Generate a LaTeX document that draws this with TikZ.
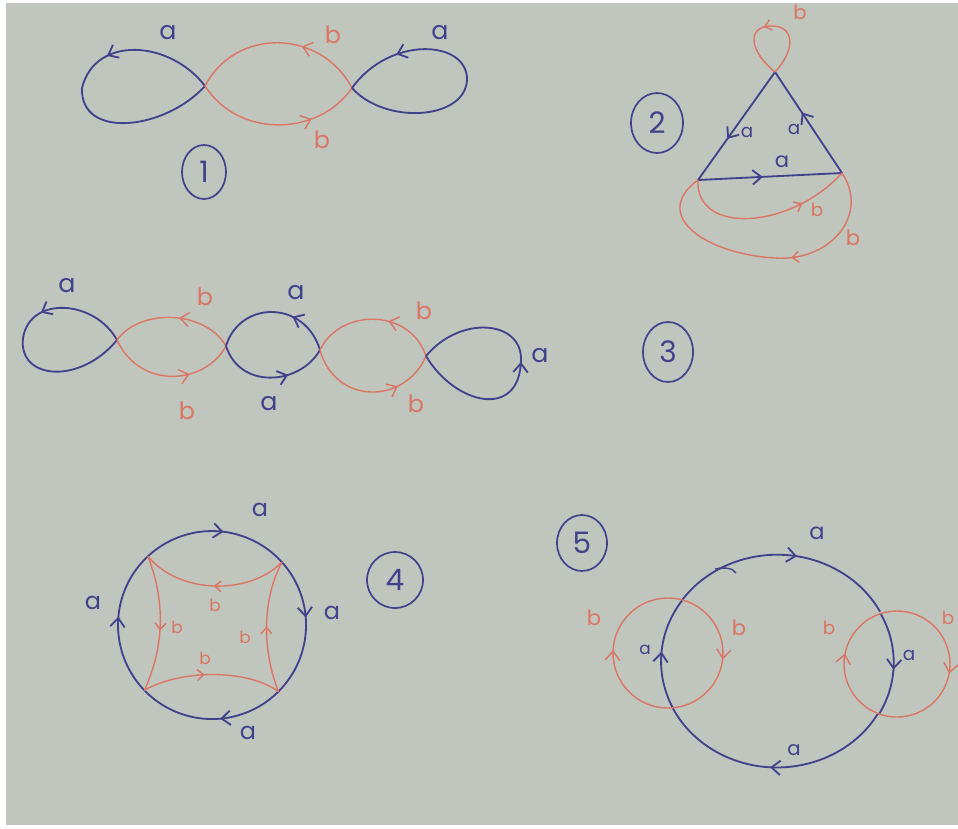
\documentclass[tikz,border=0pt]{standalone}
\usepackage{fontspec}
\setmainfont{Poppins}
\usetikzlibrary{arrows.meta,decorations.markings,shapes.geometric}
\definecolor{paper}{HTML}{C0C5BE}
\definecolor{bluepen}{HTML}{41428B}
\definecolor{redpen}{HTML}{DB7664}

\begin{document}
\begin{tikzpicture}[x=0.25mm,y=-0.25mm,
  bedge/.style={bluepen,line width=1.3pt},
  redge/.style={redpen,line width=1pt},
  midtip/.style={postaction={decorate},decoration={markings,
     mark=at position #1 with {\arrow{Straight Barb[length=2.2mm,width=3.6mm]}}}},
  smalltip/.style={postaction={decorate},decoration={markings,
     mark=at position #1 with {\arrow{Straight Barb[length=1.6mm,width=2.7mm]}}}},
  alab/.style={text=bluepen,inner sep=0pt,font=\fontsize{#1}{#1}\selectfont},
  alab/.default=18,
  blab/.style={text=redpen,inner sep=0pt,font=\fontsize{#1}{#1}\selectfont},
  blab/.default=17,
  ring/.style={draw=bluepen,ellipse,line width=1.2pt,inner sep=0pt,
               text=bluepen,font=\fontsize{21}{21}\selectfont}
]
% pixel grid of the photo, y grows downward
\path[use as bounding box] (0,0) rectangle (958,828);
\fill[white] (0,0) rectangle (958,828);
\fill[paper] (6,3) rectangle (958,825);

% 1
\coordinate (g1l) at (205,86);
\coordinate (g1r) at (352,88);
\draw[bedge,midtip=.36] (g1l) .. controls (170,40) and (95,35) .. (82,88)
  .. controls (80,140) and (165,130) .. (g1l);
\draw[redge,midtip=.37] (g1r) .. controls (320,28) and (235,28) .. (g1l);
\draw[redge,midtip=.7] (g1l) .. controls (240,140) and (320,135) .. (g1r);
\draw[bedge,midtip=.8] (g1r) .. controls (385,125) and (465,120) .. (467,80)
  .. controls (468,40) and (390,35) .. (g1r);
\node[alab] (a1left) at (168,33) {a};
\node[alab] (a1right) at (440,33) {a};
\node[blab] (b1top) at (333,35) {b};
\node[blab] (b1bot) at (322,140) {b};
\node[ring,minimum width=11mm,minimum height=13.5mm] (n1) at (204,172) {1};

% 2
\coordinate (g2t) at (775,72);
\coordinate (g2l) at (698,180);
\coordinate (g2r) at (842,173);
\draw[bedge,midtip=.62] (g2t) -- (g2l);
\draw[bedge,midtip=.6] (g2r) -- (g2t);
\draw[bedge,midtip=.45] (g2l) -- (g2r);
\draw[redge,smalltip=.55] (g2t) .. controls (797,48) and (794,25) .. (770,26)
  .. controls (746,27) and (750,52) .. (g2t);
\draw[redge,smalltip=.72] (g2l) .. controls (695,235) and (790,230) .. (g2r);
\draw[redge,smalltip=.42] (g2r) .. controls (870,215) and (830,262) .. (775,258)
  .. controls (705,254) and (650,215) .. (g2l);
\node[alab=13] (a2left) at (747,132) {a};
\node[alab=13] (a2right) at (794,129) {a};
\node[alab=15] (a2bot) at (782,162) {a};
\node[blab=14] (b2top) at (800,12) {b};
\node[blab=13] (b2in) at (817,210) {b};
\node[blab=15] (b2out) at (853,238) {b};
\node[ring,minimum width=13mm,minimum height=15mm] (n2) at (657,123) {2};

% 3
\coordinate (g3a) at (117,340);
\coordinate (g3b) at (226,346);
\coordinate (g3c) at (320,350);
\coordinate (g3d) at (426,356);
\draw[bedge,midtip=.36] (g3a) .. controls (95,300) and (30,295) .. (23,338)
  .. controls (18,380) and (80,385) .. (g3a);
\draw[redge,midtip=.45] (g3b) .. controls (205,310) and (140,308) .. (g3a);
\draw[redge,midtip=.65] (g3a) .. controls (140,390) and (205,385) .. (g3b);
\draw[bedge,midtip=.35] (g3c) .. controls (305,300) and (240,300) .. (g3b);
\draw[bedge,midtip=.65] (g3b) .. controls (240,390) and (300,385) .. (g3c);
\draw[redge,midtip=.4] (g3d) .. controls (410,308) and (340,308) .. (g3c);
\draw[redge,midtip=.7] (g3c) .. controls (335,405) and (405,405) .. (g3d);
\draw[bedge,midtip=.52] (g3d) .. controls (455,405) and (520,420) .. (521,360)
  .. controls (522,320) and (460,315) .. (g3d);
\node[alab] (a3loopl) at (67,286) {a};
\node[alab] (a3top) at (296,293) {a};
\node[alab] (a3bot) at (269,404) {a};
\node[alab] (a3loopr) at (540,356) {a};
\node[blab] (b3topl) at (205,297) {b};
\node[blab] (b3botl) at (187,411) {b};
\node[blab] (b3topr) at (424,311) {b};
\node[blab] (b3botr) at (416,404) {b};
\node[ring,minimum width=12.5mm,minimum height=15mm] (n3) at (668,352) {3};

% 4
\coordinate (g4tl) at (147.9,556.3);
\coordinate (g4tr) at (281.9,562.1);
\coordinate (g4br) at (278.5,691.5);
\coordinate (g4bl) at (144.4,690.3);
\draw[bedge,midtip=.55] (g4tl) arc[start angle=227,end angle=318,radius=94];
\draw[bedge,midtip=.43] (g4tr) arc[start angle=-42,end angle=45,radius=94];
\draw[bedge,midtip=.44] (g4br) arc[start angle=45,end angle=136,radius=94];
\draw[bedge,midtip=.54] (g4bl) arc[start angle=136,end angle=227,radius=94];
\draw[redge,smalltip=.5] (g4tr) .. controls (250,595) and (180,595) .. (g4tl);
\draw[redge,smalltip=.55] (g4tl) .. controls (165,600) and (165,645) .. (g4bl);
\draw[redge,smalltip=.45] (g4bl) .. controls (180,670) and (245,668) .. (g4br);
\draw[redge,smalltip=.5] (g4br) .. controls (262,650) and (262,600) .. (g4tr);
\node[alab=17] (a4top) at (260,510) {a};
\node[alab=17] (a4right) at (332,613) {a};
\node[alab=17] (a4bot) at (248,733) {a};
\node[alab=17] (a4left) at (93,603) {a};
\node[blab=12] (b4top) at (215,605) {b};
\node[blab=12] (b4left) at (177,627) {b};
\node[blab=12] (b4bot) at (205,658) {b};
\node[blab=12] (b4right) at (245,637) {b};
\node[ring,minimum width=14mm,minimum height=14mm] (n4) at (395,580) {4};

% 5
\coordinate (g5p1) at (682.2,599.9);
\coordinate (g5p2) at (672.8,707.8);
\coordinate (g5p3) at (880.6,613.6);
\coordinate (g5p4) at (878,713.5);
\draw[bedge,midtip=.555] (g5p1) arc[start angle=-145,end angle=-27.5,x radius=116,y radius=106];
\draw[bedge,midtip=.55] (g5p3) arc[start angle=-27.5,end angle=29.4,x radius=116,y radius=106];
\draw[bedge,midtip=.515] (g5p4) arc[start angle=29.4,end angle=154,x radius=116,y radius=106];
\draw[bedge,midtip=.51] (g5p2) arc[start angle=154,end angle=215,x radius=116,y radius=106];
\draw[bedge,line width=1pt] (715,569) .. controls (725,567) and (733,568) .. (736,573);
\draw[redge,midtip=.49] (g5p2) arc[start angle=85,end angle=285,radius=55];
\draw[redge,midtip=.51] (g5p1) arc[start angle=-75,end angle=85,radius=55];
\draw[redge,midtip=.57] (g5p4) arc[start angle=111,end angle=252,radius=53];
\draw[redge,midtip=.54] (g5p3) arc[start angle=-108,end angle=111,radius=53];
\node[alab=16] (a5top) at (817,533) {a};
\node[alab=13] (a5right) at (909,655) {a};
\node[alab=14] (a5bot) at (794,750) {a};
\node[alab=12] (a5left) at (645,650) {a};
\node[blab=15] (b5outl) at (594,618) {b};
\node[blab=15] (b5inl) at (739,628) {b};
\node[blab=13] (b5inr) at (829,628) {b};
\node[blab=13] (b5outr) at (948,618) {b};
\node[ring,minimum width=12.5mm,minimum height=14mm] (n5) at (582,543) {5};
\end{tikzpicture}
\end{document}
